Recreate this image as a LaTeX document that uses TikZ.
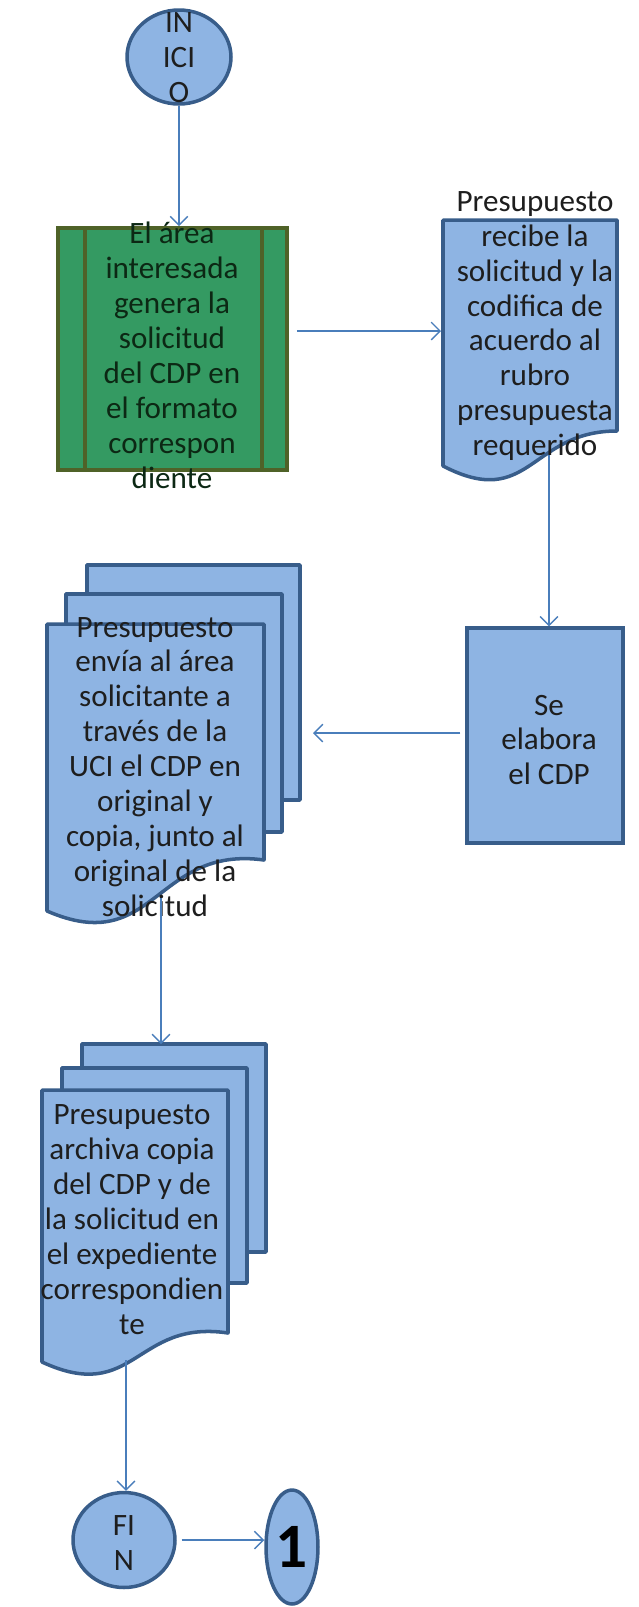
\documentclass[tikz,border=0pt]{standalone}
\usepackage{fontspec}
\setmainfont{Carlito}
\usetikzlibrary{arrows.meta,positioning,shapes.geometric}

\definecolor{docfill}{RGB}{142,180,227}
\definecolor{docline}{RGB}{56,93,138}
\definecolor{connline}{RGB}{74,126,187}
\definecolor{procfill}{RGB}{52,154,98}
\definecolor{procline}{RGB}{79,98,40}
\definecolor{txtgray}{RGB}{30,30,30}
\definecolor{txtgreen}{RGB}{12,40,20}

\tikzset{
  conn/.style={draw=connline, line width=0.8pt, -{Straight Barb[length=5pt,width=10pt]}},
  docshape/.style={fill=docfill, draw=docline, line width=2pt, line join=round},
  terminal/.style={ellipse, fill=docfill, draw=docline, line width=2pt, inner sep=0pt},
  procbox/.style={rectangle, fill=procfill, draw=procline, line width=2.2pt, inner sep=0pt},
  stepbox/.style={rectangle, fill=docfill, draw=docline, line width=2pt, inner sep=0pt},
  txt/.style={align=center, text=txtgray, inner sep=0pt, font=\fontsize{17.7}{19.9}\selectfont},
}

\begin{document}
\begin{tikzpicture}[x=0.02cm, y=-0.02cm]
    \useasboundingbox (0,0) rectangle (639,1607);

    % inicio
    \node[terminal, minimum width=2.08cm, minimum height=1.88cm] (inicio) at (179,57) {};
    \node[txt] (inicio-t) at (179,58) {IN\\ICI\\O};

    % area interesada
    \node[procbox, minimum width=4.58cm, minimum height=4.84cm] (genera) at (172.5,349) {};
    \draw[procline, line width=2.2pt] ([xshift=0.58cm]genera.north west) -- ([xshift=0.58cm]genera.south west);
    \draw[procline, line width=2.2pt] ([xshift=-0.54cm]genera.north east) -- ([xshift=-0.54cm]genera.south east);
    \node[txt, text=txtgreen] (genera-t) at (172,355) {El área\\interesada\\genera la\\solicitud\\del CDP en\\el formato\\correspon\\diente};

    % presupuesto recibe
    \draw[docshape] (443,220) -- (617,220) -- (617,431) .. controls (530,431) and (530,511) .. (443,466) -- cycle;
    \node[txt] (recibe) at (535,326) {Presupuesto\\recibe  la\\solicitud y la\\codifica de\\acuerdo al\\rubro\\presupuesta\\requerido};
    \coordinate (recibe-w) at (441,331);
    \coordinate (recibe-s) at (549,455);

    % se elabora
    \node[stepbox, minimum width=3.12cm, minimum height=4.3cm] (elabora) at (545,735.5) {};
    \node[txt] (elabora-t) at (549,740) {Se\\elabora\\el CDP};

    % presupuesto envia
    \draw[docshape] (87,565) rectangle (300,800);
    \draw[docshape] (66,594) rectangle (282,832);
    \draw[docshape] (47,624) -- (264,624) -- (264,860) .. controls (155,845) and (155,958) .. (47,911) -- cycle;
    \node[txt] (envia) at (155,767) {Presupuesto\\envía  al área\\solicitante a\\través de la\\UCI el CDP en\\original y\\copia, junto al\\original de la\\solicitud};
    \coordinate (envia-e) at (313,733);
    \coordinate (envia-s) at (161,898);

    % presupuesto archiva
    \draw[docshape] (82,1044) rectangle (266,1252);
    \draw[docshape] (62,1068) rectangle (247,1283);
    \draw[docshape] (42,1090) -- (228,1090) -- (228,1333) .. controls (135,1319) and (135,1405) .. (42,1362) -- cycle;
    \node[txt] (archiva) at (132,1220) {Presupuesto\\archiva copia\\del CDP y de\\la solicitud en\\el expediente\\correspondien\\te};
    \coordinate (archiva-n) at (161,1044);
    \coordinate (archiva-s) at (126,1360);

    % fin
    \node[terminal, minimum width=2.04cm, minimum height=1.9cm] (fin) at (124,1540) {};
    \node[txt] (fin-t) at (124,1543) {FI\\N};
    \node[terminal, minimum width=1.04cm, minimum height=2.28cm, font=\fontsize{36}{36}\selectfont\bfseries, text=black] (uno) at (292,1547) {1};

    \draw[conn] (inicio.south) -- (inicio.south |- genera.north);
    \draw[conn] ([xshift=0.16cm]genera.east |- recibe-w) -- (recibe-w);
    \draw[conn] (recibe-s) -- (recibe-s |- elabora.north);
    \draw[conn] ([xshift=-0.1cm]elabora.west |- envia-e) -- (envia-e);
    \draw[conn] (envia-s) -- (archiva-n);
    \draw[conn] (archiva-s) -- (archiva-s |- fin.north);
    \draw[conn] ([xshift=0.1cm]fin.east) -- (fin.east -| uno.west);
\end{tikzpicture}
\end{document}
